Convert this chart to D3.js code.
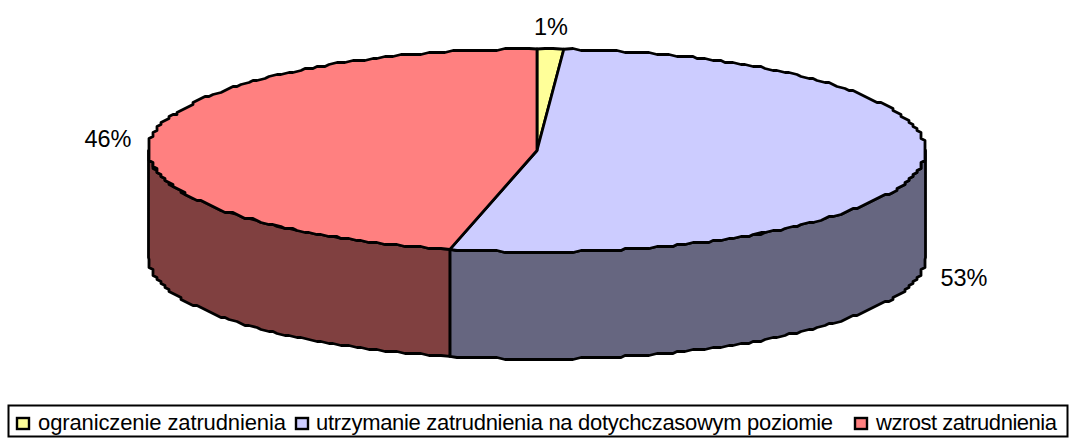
<!DOCTYPE html>
<html><head><meta charset="utf-8">
<script src="https://cdn.jsdelivr.net/npm/d3@7"></script>
<style>html,body{margin:0;padding:0;background:#fff}svg{display:block}text{font-family:"Liberation Sans",Arial,sans-serif;fill:#000}</style>
</head><body><svg id="c" width="1073" height="439"></svg>
<script>
const categories = ["ograniczenie zatrudnienia","utrzymanie zatrudnienia na dotychczasowym poziomie","wzrost zatrudnienia"];
const values = [1.1, 52.5, 46.4];
const topColors = ["#FFFF99","#CCCCFF","#FF8080"];
const sideColors = ["#808050","#666680","#804040"];
const labelPos = [[551,27],[964,278],[108,139]];
const legendSwatchX = [17,296,855];
const legendTextX = [38,316,876];
const legendTextW = [248,517,181];

const svg = d3.select("#c");
const cx=537, cy=150.5, rx=388.5, ry=101.5, depth=107;
const pie = d3.pie().value(d=>d).sort(null)(values);
// Coarse device grid, like the low resolution outline of the original renderer
const snap = (v,g)=>Math.round(v/g)*g;
const qx = a => cx + snap(rx*Math.sin(a),4);
const qy = a => cy - snap(ry*Math.cos(a),2);
const exact = a => [cx+rx*Math.sin(a), cy-ry*Math.cos(a)];
const arcPts = (a0,a1)=>{const n=Math.max(2,Math.round((a1-a0)/0.02));
  return d3.range(n+1).map(i=>{const a=a0+(a1-a0)*i/n;
    return (i===0||i===n)?exact(a):[qx(a),qy(a)];});};
const line = d3.line();

// side walls (only the front half is visible)
const HALF=Math.PI/2;
pie.forEach((d,i)=>{
  const a0=Math.max(d.startAngle,HALF), a1=Math.min(d.endAngle,HALF*3);
  if(a1<=a0) return;
  const top=arcPts(a0,a1);
  const bot=top.map(p=>[p[0],p[1]+depth]).reverse();
  svg.append("path").attr("d",line(top.concat(bot))+"Z")
    .attr("fill",sideColors[i]).attr("stroke","#000").attr("stroke-width",2.8).attr("stroke-linejoin","round");
});
// top faces
pie.forEach((d,i)=>{
  svg.append("path").attr("d",line([[cx,cy]].concat(arcPts(d.startAngle,d.endAngle)))+"Z")
    .attr("fill",topColors[i]).attr("stroke","#000").attr("stroke-width",2.8).attr("stroke-linejoin","round");
});
// data labels
pie.forEach((d,i)=>{
  svg.append("text").attr("x",labelPos[i][0]).attr("y",labelPos[i][1]+8)
    .attr("text-anchor","middle").attr("font-size",23.5)
    .text(d3.format(".0f")(values[i])+"%");
});
// legend
svg.append("rect").attr("x",8.5).attr("y",405.5).attr("width",1059).attr("height",31)
  .attr("fill","#fff").attr("stroke","#000").attr("stroke-width",2);
categories.forEach((c,i)=>{
  svg.append("rect").attr("x",legendSwatchX[i]).attr("y",418).attr("width",12).attr("height",11)
    .attr("fill",topColors[i]).attr("stroke","#000").attr("stroke-width",2.4);
  svg.append("text").attr("x",legendTextX[i]).attr("y",430).attr("font-size",22)
    .attr("textLength",legendTextW[i]).attr("lengthAdjust","spacing").text(c);
});
</script></body></html>
